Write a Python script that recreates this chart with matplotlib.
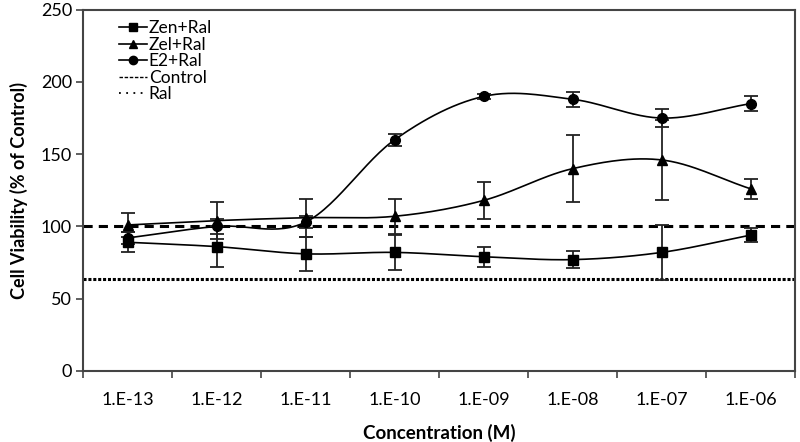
import numpy as np
import matplotlib
matplotlib.use("Agg")
import matplotlib.pyplot as plt
from matplotlib.lines import Line2D

plt.rcParams['font.family'] = ['Lato', 'DejaVu Sans']

# concentration labels (M)
conc = ['1.E-13', '1.E-12', '1.E-11', '1.E-10', '1.E-09', '1.E-08', '1.E-07', '1.E-06']

zen_ral = [89, 86, 81, 82, 79, 77, 82, 94]
zen_err = [7, 14, 12, 12, 7, 6, 19, 5]
zel_ral = [101, 104, 106, 107, 118, 140, 146, 126]
zel_err = [8, 13, 13, 12, 13, 23, 28, 7]
e2_ral = [92, 100, 103, 160, 190, 188, 175, 185]
e2_err = [4, 5, 4, 4, 2, 5, 6, 5]

control = 100
ral = 63.8


def smooth(x, y, n=30):
    # catmull-rom curve through the points (excel "smoothed line")
    x = np.asarray(x, float)
    y = np.asarray(y, float)
    px = np.concatenate([[2 * x[0] - x[1]], x, [2 * x[-1] - x[-2]]])
    py = np.concatenate([[2 * y[0] - y[1]], y, [2 * y[-1] - y[-2]]])
    xs, ys = [], []
    t = np.linspace(0, 1, n)
    for i in range(1, len(px) - 2):
        for p, out in ((px, xs), (py, ys)):
            p0, p1, p2, p3 = p[i - 1], p[i], p[i + 1], p[i + 2]
            m1 = (p2 - p0) / 2
            m2 = (p3 - p1) / 2
            h = (2*t**3 - 3*t**2 + 1) * p1 + (t**3 - 2*t**2 + t) * m1 \
                + (-2*t**3 + 3*t**2) * p2 + (t**3 - t**2) * m2
            out.extend(h)
    return xs, ys


fig = plt.figure(figsize=(8, 4.42), dpi=100)
ax = fig.add_axes([0.104, 0.161, 0.89, 0.817])

x = np.arange(len(conc))

ax.axhline(control, color='black', ls=(0, (3, 2)), lw=2.2, zorder=1)
ax.axhline(ral, color='black', ls=(0, (1, 0.6)), lw=2.2, zorder=1)

series = [(zen_ral, zen_err, 's'), (zel_ral, zel_err, '^'), (e2_ral, e2_err, 'o')]
for vals, err, mk in series:
    sx, sy = smooth(x, vals)
    ax.plot(sx, sy, color='black', lw=1.2, zorder=2)
    ax.errorbar(x, vals, yerr=err, fmt=mk, color='black', ms=7, ecolor='#222222',
                elinewidth=1.3, capsize=5, capthick=1.3, zorder=3)

ax.set_xlim(-0.5, len(conc) - 0.5)
ax.set_ylim(0, 250)
ax.set_yticks([0, 50, 100, 150, 200, 250])
ax.set_xticks(x)
ax.set_xticklabels(conc)
ax.set_xticks(np.arange(-0.5, len(conc), 1), minor=True)
ax.tick_params(axis='x', which='major', length=0, pad=15, labelsize=13)
ax.tick_params(axis='x', which='minor', length=5, width=1.2, color='#444444')
ax.tick_params(axis='y', direction='out', length=5, width=1.2, color='#444444', labelsize=13, pad=3)
for s in ax.spines.values():
    s.set_color('#444444')
    s.set_linewidth(1.5)

ax.set_xlabel('Concentration (M)', fontsize=13.5, fontweight='bold', labelpad=12)
ax.set_ylabel('Cell Viability (% of Control)', fontsize=13, fontweight='bold', labelpad=9)

handles = [
    Line2D([], [], color='black', marker='s', ms=6, lw=1.2),
    Line2D([], [], color='black', marker='^', ms=6, lw=1.2),
    Line2D([], [], color='black', marker='o', ms=6, lw=1.2),
    Line2D([], [], color='black', ls=(0, (2.5, 1.2)), lw=1),
    Line2D([], [], color='black', ls=(8, (1, 3)), lw=1.3),
]
labels = ['Zen+Ral', 'Zel+Ral', 'E2+Ral', 'Control', 'Ral']
ax.legend(handles, labels, loc='upper left', bbox_to_anchor=(0.031, 1.009), frameon=False,
          fontsize=12.5, handlelength=1.6, handletextpad=0.1, labelspacing=0.03,
          borderpad=0.3)

fig.savefig('out.png', dpi=100)
